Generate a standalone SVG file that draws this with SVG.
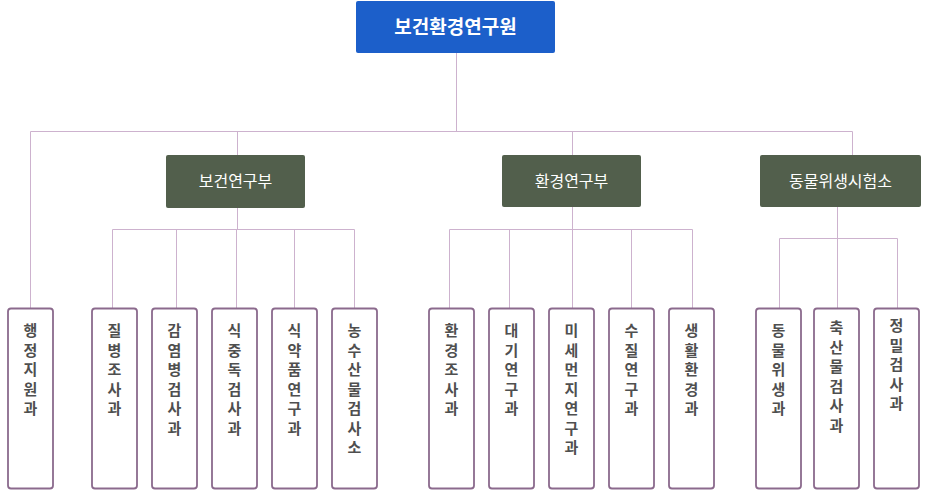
<svg xmlns="http://www.w3.org/2000/svg" width="930" height="495" viewBox="0 0 930 495">
<style>
.ln{stroke:#cdb2ce;stroke-width:1;fill:none}
.leaf{fill:#fff;stroke:#8b6a8d;stroke-width:1.8}
.dept{fill:#525f4c}
.lt{font-family:"Noto Sans CJK KR","Noto Sans",sans-serif;font-size:15px;font-weight:bold;fill:#4f4f4f;text-anchor:middle}
.dt{font-family:"Noto Sans CJK KR","Noto Sans",sans-serif;font-size:16px;fill:#fff;text-anchor:middle}
.tt{font-family:"Noto Sans CJK KR","Noto Sans",sans-serif;font-size:19px;font-weight:bold;fill:#fff;text-anchor:middle}
</style>
<rect width="930" height="495" fill="#fff"/>
<g id="connectors">
<path class="ln" d="M456.5 53V131.5M30.5 131.5H852.5M30.5 131.5V308M237.5 131.5V155M572.5 131.5V155M852.5 131.5V155"/>
<path class="ln" d="M237.5 208V229.5M112.5 229.5H354.5M112.5 229.5V308M176.5 229.5V308M236.5 229.5V308M294.5 229.5V308M354.5 229.5V308"/>
<path class="ln" d="M572.5 207V229.5M449.5 229.5H692.5M449.5 229.5V308M509.5 229.5V308M572.5 229.5V308M631.5 229.5V308M692.5 229.5V308"/>
<path class="ln" d="M837.5 207V238.5M779.5 238.5H897.5M779.5 238.5V308M837.5 238.5V308M897.5 238.5V308"/>
</g>
<g id="root">
<rect x="356" y="1" width="199" height="52" rx="2" fill="#1c5fca"/>
<text class="tt" x="455.5" y="34">보건환경연구원</text>
</g>
<g id="dept1"><rect class="dept" x="166" y="155" width="139" height="53" rx="2"/><text class="dt" x="235.5" y="187">보건연구부</text></g>
<g id="dept2"><rect class="dept" x="502" y="155" width="139" height="52" rx="2"/><text class="dt" x="571.5" y="187">환경연구부</text></g>
<g id="dept3"><rect class="dept" x="760" y="155" width="161" height="52" rx="2"/><text class="dt" x="840.5" y="187">동물위생시험소</text></g>

<g id="n1"><rect class="leaf" x="8" y="308.5" width="45" height="180" rx="3"/><text class="lt" y="336"><tspan x="30.5">행</tspan><tspan x="30.5" dy="19.5">정</tspan><tspan x="30.5" dy="19.5">지</tspan><tspan x="30.5" dy="19.5">원</tspan><tspan x="30.5" dy="19.5">과</tspan></text></g>
<g id="n2"><rect class="leaf" x="92" y="308.5" width="45" height="180" rx="3"/><text class="lt" y="336"><tspan x="114.5">질</tspan><tspan x="114.5" dy="19.5">병</tspan><tspan x="114.5" dy="19.5">조</tspan><tspan x="114.5" dy="19.5">사</tspan><tspan x="114.5" dy="19.5">과</tspan></text></g>
<g id="n3"><rect class="leaf" x="152" y="308.5" width="45" height="180" rx="3"/><text class="lt" y="336"><tspan x="174.5">감</tspan><tspan x="174.5" dy="19.5">염</tspan><tspan x="174.5" dy="19.5">병</tspan><tspan x="174.5" dy="19.5">검</tspan><tspan x="174.5" dy="19.5">사</tspan><tspan x="174.5" dy="19.5">과</tspan></text></g>
<g id="n4"><rect class="leaf" x="212" y="308.5" width="45" height="180" rx="3"/><text class="lt" y="336"><tspan x="234.5">식</tspan><tspan x="234.5" dy="19.5">중</tspan><tspan x="234.5" dy="19.5">독</tspan><tspan x="234.5" dy="19.5">검</tspan><tspan x="234.5" dy="19.5">사</tspan><tspan x="234.5" dy="19.5">과</tspan></text></g>
<g id="n5"><rect class="leaf" x="272" y="308.5" width="45" height="180" rx="3"/><text class="lt" y="336"><tspan x="294.5">식</tspan><tspan x="294.5" dy="19.5">약</tspan><tspan x="294.5" dy="19.5">품</tspan><tspan x="294.5" dy="19.5">연</tspan><tspan x="294.5" dy="19.5">구</tspan><tspan x="294.5" dy="19.5">과</tspan></text></g>
<g id="n6"><rect class="leaf" x="332" y="308.5" width="45" height="180" rx="3"/><text class="lt" y="336"><tspan x="354.5">농</tspan><tspan x="354.5" dy="19.5">수</tspan><tspan x="354.5" dy="19.5">산</tspan><tspan x="354.5" dy="19.5">물</tspan><tspan x="354.5" dy="19.5">검</tspan><tspan x="354.5" dy="19.5">사</tspan><tspan x="354.5" dy="19.5">소</tspan></text></g>

<g id="n7"><rect class="leaf" x="429" y="308.5" width="45" height="180" rx="3"/><text class="lt" y="336"><tspan x="451.5">환</tspan><tspan x="451.5" dy="19.5">경</tspan><tspan x="451.5" dy="19.5">조</tspan><tspan x="451.5" dy="19.5">사</tspan><tspan x="451.5" dy="19.5">과</tspan></text></g>
<g id="n8"><rect class="leaf" x="489" y="308.5" width="45" height="180" rx="3"/><text class="lt" y="336"><tspan x="511.5">대</tspan><tspan x="511.5" dy="19.5">기</tspan><tspan x="511.5" dy="19.5">연</tspan><tspan x="511.5" dy="19.5">구</tspan><tspan x="511.5" dy="19.5">과</tspan></text></g>
<g id="n9"><rect class="leaf" x="549" y="308.5" width="45" height="180" rx="3"/><text class="lt" y="336"><tspan x="571.5">미</tspan><tspan x="571.5" dy="19.5">세</tspan><tspan x="571.5" dy="19.5">먼</tspan><tspan x="571.5" dy="19.5">지</tspan><tspan x="571.5" dy="19.5">연</tspan><tspan x="571.5" dy="19.5">구</tspan><tspan x="571.5" dy="19.5">과</tspan></text></g>
<g id="n10"><rect class="leaf" x="609" y="308.5" width="45" height="180" rx="3"/><text class="lt" y="336"><tspan x="631.5">수</tspan><tspan x="631.5" dy="19.5">질</tspan><tspan x="631.5" dy="19.5">연</tspan><tspan x="631.5" dy="19.5">구</tspan><tspan x="631.5" dy="19.5">과</tspan></text></g>
<g id="n11"><rect class="leaf" x="669" y="308.5" width="45" height="180" rx="3"/><text class="lt" y="336"><tspan x="691.5">생</tspan><tspan x="691.5" dy="19.5">활</tspan><tspan x="691.5" dy="19.5">환</tspan><tspan x="691.5" dy="19.5">경</tspan><tspan x="691.5" dy="19.5">과</tspan></text></g>

<g id="n12"><rect class="leaf" x="756" y="308.5" width="45" height="180" rx="3"/><text class="lt" y="336"><tspan x="778.5">동</tspan><tspan x="778.5" dy="19.5">물</tspan><tspan x="778.5" dy="19.5">위</tspan><tspan x="778.5" dy="19.5">생</tspan><tspan x="778.5" dy="19.5">과</tspan></text></g>
<g id="n13"><rect class="leaf" x="814" y="308.5" width="45" height="180" rx="3"/><text class="lt" y="333"><tspan x="836.5">축</tspan><tspan x="836.5" dy="19.5">산</tspan><tspan x="836.5" dy="19.5">물</tspan><tspan x="836.5" dy="19.5">검</tspan><tspan x="836.5" dy="19.5">사</tspan><tspan x="836.5" dy="19.5">과</tspan></text></g>
<g id="n14"><rect class="leaf" x="874" y="308.5" width="45" height="180" rx="3"/><text class="lt" y="331"><tspan x="896.5">정</tspan><tspan x="896.5" dy="19.5">밀</tspan><tspan x="896.5" dy="19.5">검</tspan><tspan x="896.5" dy="19.5">사</tspan><tspan x="896.5" dy="19.5">과</tspan></text></g>
</svg>
